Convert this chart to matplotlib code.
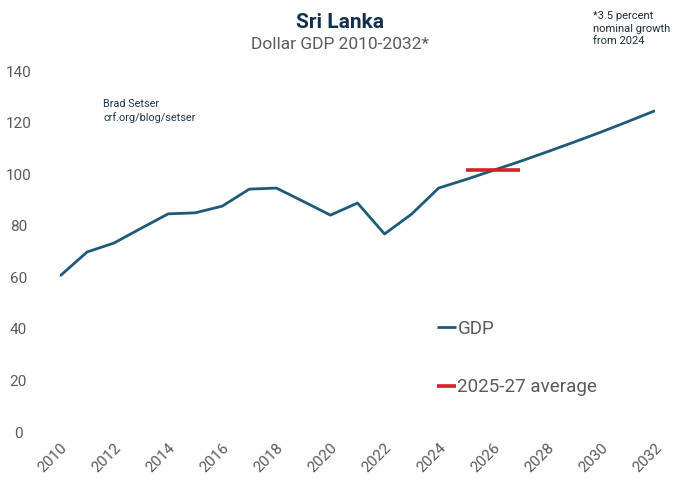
import matplotlib
matplotlib.use("Agg")
import matplotlib.pyplot as plt

plt.rcParams['font.family'] = ['Roboto', 'DejaVu Sans']

# Data
years = [2010, 2011, 2012, 2013, 2014, 2015, 2016, 2017, 2018, 2019, 2020,
         2021, 2022, 2023, 2024, 2025, 2026, 2027, 2028, 2029, 2030, 2031, 2032]
gdp = [60.5, 69.8, 73.3, 79.0, 84.6, 85.0, 87.6, 94.2, 94.6, 89.4, 84.1,
       88.8, 76.8, 84.5, 94.6, 97.9, 101.4, 104.9, 108.6, 112.4, 116.3, 120.4, 124.6]
avg_years = [2025, 2027]
avg_value = [101.6, 101.6]

xticks = list(range(2010, 2033, 2))
yticks = list(range(0, 141, 20))

navy = '#1f5a78'
red = '#d42027'
gray = '#5a5a5a'

fig = plt.figure(figsize=(6.8, 4.94), dpi=100)
ax = fig.add_axes([60 / 680, 62 / 494, 595 / 680, 361 / 494])

ax.plot(years, gdp, color=navy, lw=2.0, label='GDP', solid_capstyle='butt')
ax.plot(avg_years, avg_value, color=red, lw=2.6, label='2025-27 average', solid_capstyle='butt')

ax.set_xlim(2010, 2032)
ax.set_ylim(0, 140)
ax.set_xticks(xticks)
ax.set_yticks(yticks)
for s in ax.spines.values():
    s.set_visible(False)
ax.tick_params(length=0, colors=gray, labelsize=11)
ax.tick_params(axis='y', pad=30)
for lbl in ax.get_yticklabels():
    lbl.set_horizontalalignment('center')
plt.setp(ax.get_xticklabels(), rotation=45, ha='right', rotation_mode='anchor')
ax.tick_params(axis='x', pad=6)

leg = ax.legend(loc='upper left', bbox_to_anchor=(0.605, 0.357), frameon=False,
                fontsize=13.5, handlelength=1.0, handletextpad=0.1,
                labelspacing=2.15)
for t in leg.get_texts():
    t.set_color(gray)

fig.text(0.5, 0.955, 'Sri Lanka', ha='center', va='center', fontsize=15,
         fontweight='bold', color='#0e3050')
fig.text(0.5, 0.91, 'Dollar GDP 2010-2032*', ha='center', va='center',
         fontsize=12.5, color=gray)
fig.text(593 / 680, 0.977, '*3.5 percent\nnominal growth\nfrom 2024', ha='left',
         va='top', fontsize=8, color='#1c2b3a', linespacing=1.3)
ax.text(2011.6, 129, 'Brad Setser\ncrf.org/blog/setser', ha='left', va='top',
        fontsize=7.8, color='#1c3550', linespacing=1.35)

fig.savefig('out.png', dpi=100)
